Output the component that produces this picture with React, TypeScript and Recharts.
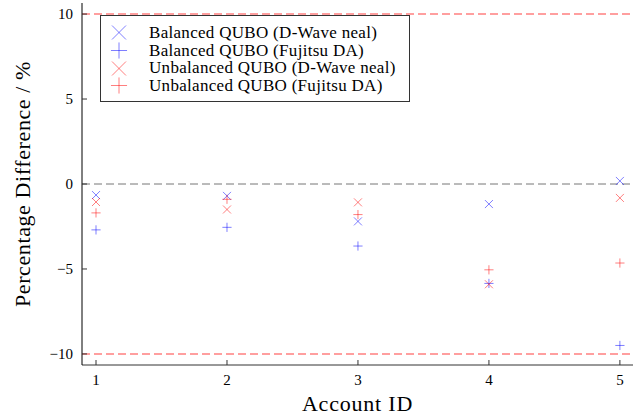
import { ScatterChart, Scatter, XAxis, YAxis, ReferenceLine } from 'recharts'

const accountIds = [1, 2, 3, 4, 5]
const balancedNeal = [-0.65, -0.7, -2.2, -1.18, 0.18]
const balancedFujitsu = [-2.7, -2.55, -3.65, -5.85, -9.5]
const unbalancedNeal = [-1.06, -1.5, -1.08, -5.9, -0.82]
const unbalancedFujitsu = [-1.7, -0.9, -1.8, -5.05, -4.65]
const yTicks = [-10, -5, 0, 5, 10]

const toPoints = (vals: number[]) => accountIds.map((id, i) => ({ id, v: vals[i] }))

const BLUE = 'rgba(0,0,255,0.5)'
const RED = 'rgba(255,0,0,0.5)'
const FONT = '"Liberation Serif", "DejaVu Serif", serif'

const series = [
  { name: 'Balanced QUBO (D-Wave neal)', data: toPoints(balancedNeal), color: BLUE, kind: 'x' },
  { name: 'Balanced QUBO (Fujitsu DA)', data: toPoints(balancedFujitsu), color: BLUE, kind: '+' },
  { name: 'Unbalanced QUBO (D-Wave neal)', data: toPoints(unbalancedNeal), color: RED, kind: 'x' },
  { name: 'Unbalanced QUBO (Fujitsu DA)', data: toPoints(unbalancedFujitsu), color: RED, kind: '+' },
]

function Marker({ cx, cy, color, kind, r }: { cx: number; cy: number; color: string; kind: string; r: number }) {
  if (kind === 'x') {
    return (
      <g stroke={color} strokeWidth={1}>
        <line x1={cx - r} y1={cy - r} x2={cx + r} y2={cy + r} />
        <line x1={cx - r} y1={cy + r} x2={cx + r} y2={cy - r} />
      </g>
    )
  }
  const p = r * 1.15
  return (
    <g stroke={color} strokeWidth={1}>
      <line x1={cx - p} y1={cy} x2={cx + p} y2={cy} />
      <line x1={cx} y1={cy - p} x2={cx} y2={cy + p} />
    </g>
  )
}

const fmt = (v: number) => (v < 0 ? '\u2212' + Math.abs(v) : String(v))

function XTick({ x, y, payload }: any) {
  return (
    <g>
      <line x1={x} y1={y} x2={x} y2={y - 5} stroke="#333" />
      <text x={x} y={y + 20} textAnchor="middle" fontSize={15} fontFamily={FONT} fill="#000">
        {payload.value}
      </text>
    </g>
  )
}

function YTick({ x, y, payload }: any) {
  return (
    <g>
      <line x1={x} y1={y} x2={x + 5} y2={y} stroke="#333" />
      <text x={x - 9} y={y + 5} textAnchor="end" fontSize={15} fontFamily={FONT} fill="#000">
        {fmt(payload.value)}
      </text>
    </g>
  )
}

function LegendBox() {
  return (
    <div
      style={{
        position: 'absolute',
        left: 100,
        top: 15,
        border: '1px solid #333',
        background: '#fff',
        width: 310,
        height: 87,
        boxSizing: 'border-box',
        paddingTop: 8,
        fontFamily: FONT,
        fontSize: 17,
        letterSpacing: 0.3,
        lineHeight: '17.7px',
      }}
    >
      {series.map((s) => (
        <div key={s.name} style={{ display: 'flex', alignItems: 'center', height: 17.7 }}>
          <svg width={48} height={17} style={{ flex: 'none' }}>
            <Marker cx={18} cy={8.5} color={s.color} kind={s.kind} r={7} />
          </svg>
          <span>{s.name}</span>
        </div>
      ))}
    </div>
  )
}

export default function App() {
  return (
    <div style={{ position: 'absolute', left: 0, top: 0, width: 634, height: 418, background: '#fff' }}>
      <ScatterChart width={634} height={418} margin={{ top: 3, right: 1, left: 0, bottom: 0 }}>
        <XAxis
          type="number"
          dataKey="id"
          domain={[0.893, 5.1]}
          ticks={accountIds}
          allowDataOverflow
          height={53}
          tickSize={0}
          tickMargin={0}
          tick={<XTick />}
          axisLine={{ stroke: '#333' }}
          label={{ value: 'Account ID', position: 'insideBottom', offset: 7, fontSize: 22, letterSpacing: 0.8, fontFamily: FONT, fill: '#000' }}
        />
        <XAxis xAxisId="top" orientation="top" type="number" dataKey="id" domain={[0.893, 5.1]} height={0} tick={false} tickLine={false} axisLine={{ stroke: '#333' }} />
        <YAxis
          type="number"
          dataKey="v"
          domain={[-10.65, 10.65]}
          ticks={yTicks}
          allowDataOverflow
          width={82}
          tickSize={0}
          tickMargin={0}
          tick={<YTick />}
          axisLine={{ stroke: '#000' }}
          label={{ value: 'Percentage Difference / %', angle: -90, position: 'insideLeft', offset: 22, style: { textAnchor: 'middle' }, fontSize: 22, letterSpacing: 0.6, fontFamily: FONT, fill: '#000' }}
        />
        <YAxis yAxisId="right" orientation="right" type="number" dataKey="v" domain={[-10.65, 10.65]} width={0} tick={false} tickLine={false} axisLine={{ stroke: '#333' }} />
        <ReferenceLine y={10} stroke="rgba(255,0,0,0.5)" strokeDasharray="8 4" strokeWidth={1.5} />
        <ReferenceLine y={-10} stroke="rgba(255,0,0,0.5)" strokeDasharray="8 4" strokeWidth={1.5} />
        <ReferenceLine y={0} stroke="#777" strokeDasharray="8 4" strokeWidth={1} />
        {series.map((s) => (
          <Scatter
            key={s.name}
            name={s.name}
            data={s.data}
            isAnimationActive={false}
            shape={(p: any) => <Marker cx={p.cx} cy={p.cy} color={s.color} kind={s.kind} r={4} />}
          />
        ))}
      </ScatterChart>
      <LegendBox />
    </div>
  )
}
